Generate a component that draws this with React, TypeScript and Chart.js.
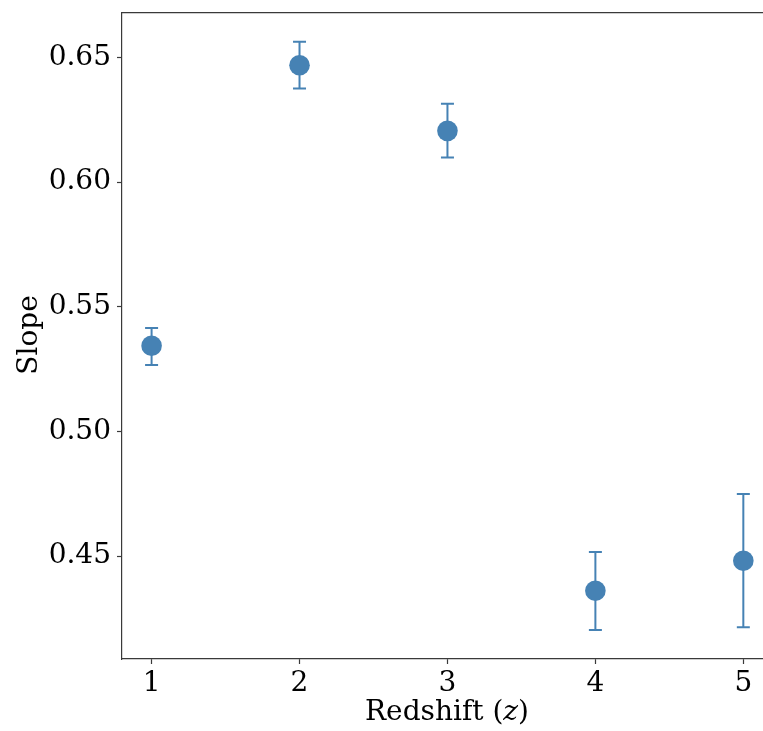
import React, { useEffect, useRef } from 'react';
import { Chart, registerables } from 'chart.js';
Chart.register(...registerables);

const redshifts = [1, 2, 3, 4, 5];
const slopes = [0.5344, 0.6469, 0.6206, 0.4361, 0.4481];
const errLower = [0.5267, 0.6376, 0.6099, 0.4203, 0.4214];
const errUpper = [0.5415, 0.6563, 0.6315, 0.4516, 0.4749];
const xTicks = [1, 2, 3, 4, 5];
const yTicks = [0.45, 0.5, 0.55, 0.6, 0.65];

const COLOR = '#4682B4';
const AXIS = '#3a3a3a';
const FONT = "'DejaVu Serif', serif";

const errorBarPlugin = {
  id: 'errorBars',
  beforeDatasetsDraw(chart: any) {
    const { ctx, scales } = chart;
    const xs = scales.x, ys = scales.y;
    ctx.save();
    ctx.strokeStyle = COLOR;
    ctx.lineWidth = 2;
    redshifts.forEach((z, i) => {
      const px = xs.getPixelForValue(z);
      const top = ys.getPixelForValue(errUpper[i]);
      const bot = ys.getPixelForValue(errLower[i]);
      ctx.beginPath();
      ctx.moveTo(px, top); ctx.lineTo(px, bot);
      ctx.moveTo(px - 6.5, top); ctx.lineTo(px + 6.5, top);
      ctx.moveTo(px - 6.5, bot); ctx.lineTo(px + 6.5, bot);
      ctx.stroke();
    });
    ctx.restore();
  },
  afterDraw(chart: any) {
    const { ctx, chartArea } = chart;
    ctx.save();
    // top spine
    ctx.strokeStyle = AXIS;
    ctx.lineWidth = 1.2;
    ctx.beginPath();
    ctx.moveTo(chartArea.left, chartArea.top);
    ctx.lineTo(chartArea.right + 5, chartArea.top);
    ctx.stroke();
    // x title with italic z
    ctx.fillStyle = '#000';
    ctx.textBaseline = 'middle';
    const parts: [string, string][] = [['Redshift (', 'normal'], ['z', 'italic'], [')', 'normal']];
    let total = 0;
    const widths = parts.map(([t, s]) => {
      ctx.font = `${s} 28px ${FONT}`;
      const w = ctx.measureText(t).width;
      total += w;
      return w;
    });
    let x = 447 - total / 2;
    parts.forEach(([t, s], i) => {
      ctx.font = `${s} 28px ${FONT}`;
      ctx.textAlign = 'left';
      ctx.fillText(t, x, 713);
      x += widths[i];
    });
    // y title
    ctx.translate(30, 335);
    ctx.rotate(-Math.PI / 2);
    ctx.font = `28px ${FONT}`;
    ctx.textAlign = 'center';
    ctx.fillText('Slope', 0, 0);
    ctx.restore();
  },
};

export default function App() {
  const ref = useRef<HTMLCanvasElement>(null);
  useEffect(() => {
    const chart = new Chart(ref.current!, {
      type: 'scatter',
      data: {
        datasets: [{
          data: redshifts.map((z, i) => ({ x: z, y: slopes[i] })),
          backgroundColor: COLOR,
          borderColor: COLOR,
          pointRadius: 10.3,
          pointHoverRadius: 10.3,
          borderWidth: 0,
        }],
      },
      options: {
        animation: false,
        responsive: false,
        events: [],
        layout: { autoPadding: false, padding: { top: 12.7, right: 0, left: 0, bottom: 0 } },
        plugins: { legend: { display: false }, tooltip: { enabled: false } },
        scales: {
          x: {
            type: 'linear',
            min: 0.8,
            max: 5.133,
            afterBuildTicks: (s: any) => { s.ticks = xTicks.map(v => ({ value: v })); },
            afterFit: (s: any) => { s.height = 72; s.paddingLeft = 0; s.paddingRight = 0; },
            grid: { drawOnChartArea: false, drawTicks: true, tickLength: 5, tickColor: AXIS, tickWidth: 1.2 },
            border: { display: true, color: AXIS, width: 1.2 },
            ticks: { color: '#000', font: { family: FONT, size: 28 }, padding: 3, callback: (v: any) => String(v) },
          },
          y: {
            type: 'linear',
            min: 0.4087,
            max: 0.668,
            afterBuildTicks: (s: any) => { s.ticks = yTicks.map(v => ({ value: v })); },
            afterFit: (s: any) => { s.width = 122; s.paddingTop = 0; s.paddingBottom = 0; },
            grid: { drawOnChartArea: false, drawTicks: true, tickLength: 5, tickColor: AXIS, tickWidth: 1.2 },
            border: { display: true, color: AXIS, width: 1.2 },
            ticks: { color: '#000', font: { family: FONT, size: 28 }, padding: 6, callback: (v: any) => Number(v).toFixed(2) },
          },
        },
      },
      plugins: [errorBarPlugin],
    });
    return () => chart.destroy();
  }, []);
  return (
    <div style={{ position: 'fixed', left: 0, top: 0, width: 763, height: 731, background: '#fff' }}>
      <canvas ref={ref} width={763} height={731} style={{ width: 763, height: 731 }} />
    </div>
  );
}
